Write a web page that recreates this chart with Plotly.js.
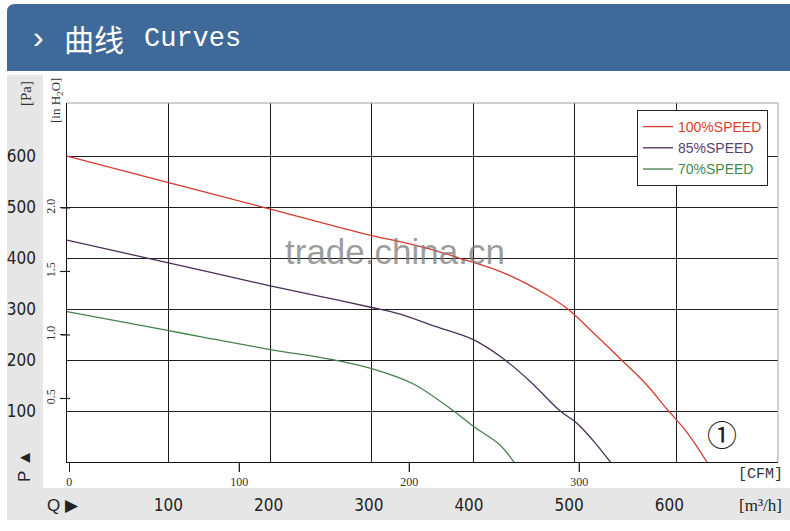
<!DOCTYPE html>
<html>
<head>
<meta charset="utf-8">
<script src="https://cdn.plot.ly/plotly-3.0.1.min.js"></script>
<style>
  html, body { margin: 0; padding: 0; background: #fff; }
  #chart { width: 790px; height: 531px; }
</style>
</head>
<body>
<div id="chart"></div>
<script>
// Airflow in m³/h, static pressure in Pa
const speedNames = ['100%SPEED', '85%SPEED', '70%SPEED'];
const red_q    = [0, 100, 200, 288, 353, 386, 431, 472, 493, 521, 546, 570, 591, 610, 630];
const red_p    = [600, 548, 496, 450, 420, 400, 370, 328, 300, 248, 200, 153, 103, 59, 0];
const purple_q = [0, 146, 199, 249, 300, 328, 361, 400, 428, 456, 485, 502, 518, 535];
const purple_p = [435, 370, 346, 325, 303, 290, 267, 240, 205, 158, 101, 76, 42, 0];
const green_q  = [0, 99, 131, 199, 263, 300, 341, 380, 400, 426, 440];
const green_p  = [295, 258, 246, 221, 200, 183, 153, 101, 70, 34, 0];

const m3hTicks  = [100, 200, 300, 400, 500, 600];
const cfmTicks  = [0, 100, 200, 300];
const paTicks   = [100, 200, 300, 400, 500, 600];
const inH2OTicks = [0.5, 1.0, 1.5, 2.0];
const inH2OText  = ['0.5', '1.0', '1.5', '2.0'];

const lineColors = ['#d23b30', '#4a2f56', '#44804a'];
const textColors = ['#d9402c', '#5a3d6e', '#3f8a4c'];

const series = [[red_q, red_p], [purple_q, purple_p], [green_q, green_p]];

// curves live on the m³/h (x2) / Pa (y2) scales
const traces = series.map((s, i) => ({
  x: s[0], y: s[1], type: 'scatter', mode: 'lines', xaxis: 'x2', yaxis: 'y2',
  name: '<span style="color:' + textColors[i] + '">' + speedNames[i] + '</span>',
  line: { color: lineColors[i], width: 1.3, shape: 'spline', smoothing: 1 },
  hoverinfo: 'skip'
}));

// empty traces so the other scales (CFM / inH2O main axes, m³/h label row) are drawn
[['x', 'y'], ['x3', 'y2']].forEach(a => traces.push({
  x: [], y: [], type: 'scatter', mode: 'lines', xaxis: a[0], yaxis: a[1],
  showlegend: false, hoverinfo: 'skip'
}));

// pixel -> paper helpers (plot area: x 67..778, y 103..462)
const L = 67, R = 778, T = 103, B = 462;
const PX = p => (p - L) / (R - L);
const PY = p => (B - p) / (B - T);

const numFont = 'Liberation Sans Narrow, DejaVu Sans Condensed, Liberation Sans, sans-serif';

const hx0 = PX(7), hx1 = PX(790), hy0 = PY(71), hy1 = PY(4);
const rdx = 8 / (R - L), rdy = 8 / (B - T);
const headerPath = 'M ' + hx0 + ',' + hy0 + ' L ' + hx0 + ',' + (hy1 - rdy) +
  ' Q ' + hx0 + ',' + hy1 + ' ' + (hx0 + rdx) + ',' + hy1 +
  ' L ' + hx1 + ',' + hy1 + ' L ' + hx1 + ',' + hy0 + ' Z';

const shapes = [
  { type: 'path', xref: 'paper', yref: 'paper', path: headerPath, fillcolor: '#3f6999', line: { width: 0 }, layer: 'below' },
  { type: 'rect', xref: 'paper', yref: 'paper', x0: PX(7), x1: PX(43), y0: PY(520), y1: PY(75), fillcolor: '#e6e6e6', line: { width: 0 }, layer: 'below' },
  { type: 'rect', xref: 'paper', yref: 'paper', x0: PX(7), x1: PX(790), y0: PY(520), y1: PY(488), fillcolor: '#e6e6e6', line: { width: 0 }, layer: 'below' },
  { type: 'line', xref: 'paper', yref: 'paper', x0: 0, x1: 1, y0: 1, y1: 1, line: { color: '#a0a0a0', width: 1 } },
  { type: 'line', xref: 'paper', yref: 'paper', x0: 1, x1: 1, y0: 0, y1: 1, line: { color: '#a0a0a0', width: 1 } }
];

// tick marks for the CFM scale (placed on the x scale) and the inH2O scale (placed on the y scale)
cfmTicks.filter(v => v > 0).forEach(v => shapes.push({
  type: 'line', xref: 'x', yref: 'paper', x0: v, x1: v, y0: PY(463), y1: PY(472),
  line: { color: '#222', width: 1.2 }
}));
inH2OTicks.forEach(v => shapes.push({
  type: 'line', xref: 'paper', yref: 'y', x0: PX(61), x1: PX(70), y0: v, y1: v,
  line: { color: '#222', width: 1.2 }
}));

const ann = (text, px, py, opts) => Object.assign({
  text: text, xref: 'paper', yref: 'paper', x: PX(px), y: PY(py),
  xanchor: 'center', yanchor: 'middle', showarrow: false
}, opts || {});

const annotations = [
  ann('›', 38, 37, { font: { family: 'Liberation Sans, sans-serif', size: 32, color: '#fff' } }),
  ann('曲线', 62, 38, { xanchor: 'left', font: { family: 'Noto Sans CJK SC', size: 30, color: '#fff' } }),
  ann('Curves', 142, 39, { xanchor: 'left', font: { family: 'Liberation Mono, monospace', size: 27, color: '#fff' } }),
  ann('trade.china.cn', 395, 252, { font: { family: 'Liberation Sans, sans-serif', size: 35, color: 'rgba(125,125,125,0.75)' } }),
  ann('[Pa]', 26, 94, { textangle: -90, font: { family: 'Liberation Serif, serif', size: 15, color: '#333' } }),
  ann('[in H<sub>2</sub>O]', 56, 101, { textangle: -90, font: { family: 'Liberation Serif, serif', size: 13, color: '#333' } }),
  ann('P ▲', 24, 466, { textangle: -90, font: { family: 'Liberation Sans, sans-serif', size: 17, color: '#222' } }),
  ann('Q ▶', 63, 505, { font: { family: 'Liberation Sans Narrow, Liberation Sans, sans-serif', size: 17, color: '#222' } }),
  ann('[CFM]', 760, 474, { font: { family: 'Liberation Mono, monospace', size: 15, color: '#333' } }),
  ann('[m³/h]', 760, 505, { font: { family: 'Liberation Serif, serif', size: 17, color: '#222' } }),
  ann('①', 722, 433, { font: { family: 'Noto Sans CJK SC', size: 30, color: '#222' } })
];

const gridCol = '#1e1e1e';

const layout = {
  width: 790, height: 531,
  margin: { l: L, r: 790 - R, t: T, b: 531 - B },
  paper_bgcolor: '#fff', plot_bgcolor: '#fff',
  showlegend: true,
  legend: {
    x: PX(768), xanchor: 'right', y: PY(110), yanchor: 'top',
    bordercolor: '#222', borderwidth: 1, bgcolor: '#fff',
    font: { family: 'Liberation Sans, Arial, sans-serif', size: 14 },
    tracegroupgap: 0, itemwidth: 30
  },
  // CFM scale (main x): line and labels
  xaxis: {
    range: [-1.35, 416.9], tickmode: 'array', tickvals: cfmTicks, showgrid: false, zeroline: false,
    showline: true, linecolor: '#111', linewidth: 1,
    ticks: 'outside', ticklen: 9, tickcolor: '#222', tickwidth: 1,
    tickfont: { family: 'Liberation Serif, serif', size: 12, color: '#333' }
  },
  // m³/h scale: grid + data
  xaxis2: {
    overlaying: 'x', anchor: 'y2', side: 'bottom', range: [0, 700], tickmode: 'array', tickvals: m3hTicks,
    showgrid: true, gridcolor: gridCol, gridwidth: 1, ticks: '', showticklabels: false,
    zeroline: false, showline: false
  },
  // m³/h labels row
  xaxis3: {
    overlaying: 'x', anchor: 'y', side: 'bottom', range: [-1.2, 708.4], tickmode: 'array', tickvals: m3hTicks,
    ticks: '', showgrid: false, zeroline: false, showline: false, ticklabelstandoff: 31,
    tickfont: { family: numFont, size: 17, color: '#222' }
  },
  // inH2O scale (main y): line and rotated labels
  yaxis: {
    range: [0, 704 / 249.09], tickmode: 'array', tickvals: inH2OTicks, ticktext: inH2OText, showgrid: false, zeroline: false,
    showline: true, linecolor: '#111', linewidth: 1,
    ticks: 'outside', ticklen: 6, tickcolor: '#222', tickwidth: 1, tickangle: -90,
    tickfont: { family: 'Liberation Serif, serif', size: 12, color: '#333' }
  },
  // Pa scale: grid + labels + data
  yaxis2: {
    overlaying: 'y', anchor: 'x', side: 'left', range: [0, 704], tickmode: 'array', tickvals: paTicks,
    showgrid: true, gridcolor: gridCol, gridwidth: 1, ticks: '', zeroline: false, showline: false,
    ticklabelstandoff: 30, tickfont: { family: numFont, size: 17, color: '#222' }
  },
  shapes: shapes,
  annotations: annotations
};

Plotly.newPlot('chart', traces, layout, { staticPlot: true, displayModeBar: false });
</script>
</body>
</html>
